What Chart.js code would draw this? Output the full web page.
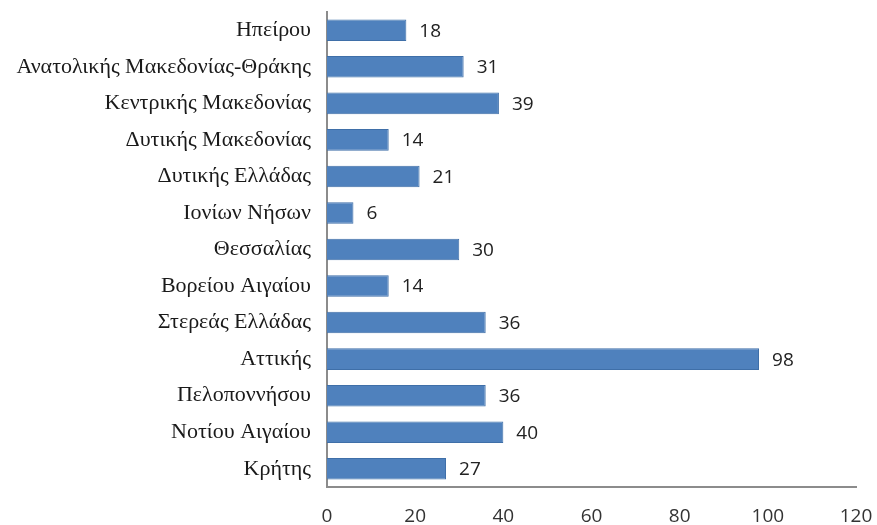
<!DOCTYPE html>
<html>
<head>
<meta charset="utf-8">
<script src="https://cdn.jsdelivr.net/npm/chart.js@4/dist/chart.umd.min.js"></script>
<style>
  html, body { margin: 0; padding: 0; background: #fff; }
  #wrap { width: 877px; height: 525px; position: relative; }
</style>
</head>
<body>
<div id="wrap"><canvas id="regions"></canvas></div>
<script>
var regions = [
  'Ηπείρου', 'Ανατολικής Μακεδονίας-Θράκης', 'Κεντρικής Μακεδονίας',
  'Δυτικής Μακεδονίας', 'Δυτικής Ελλάδας', 'Ιονίων Νήσων', 'Θεσσαλίας',
  'Βορείου Αιγαίου', 'Στερεάς Ελλάδας', 'Αττικής', 'Πελοποννήσου',
  'Νοτίου Αιγαίου', 'Κρήτης'
];
var counts = [18, 31, 39, 14, 21, 6, 30, 14, 36, 98, 36, 40, 27];
var xTicks = [0, 20, 40, 60, 80, 100, 120];

var chart_regions = new Chart(document.getElementById('regions'), {
    type: 'bar',
    data: {
        labels: regions,
        datasets: [{
            data: counts,
            backgroundColor: '#4f81bd',
            borderColor: '#3f6fa8',
            borderWidth: 1,
            categoryPercentage: 1,
            barPercentage: 0.59
        }]
    },
    options: {
        indexAxis: 'y',
        animation: false,
        responsive: true,
        maintainAspectRatio: false,
        layout: { padding: { top: 12, right: 21, bottom: 0, left: 0 } },
        plugins: {
            legend: { display: false },
            tooltip: { enabled: false }
        },
        scales: {
            x: {
                min: 0,
                max: 120,
                afterBuildTicks: function (scale) {
                    scale.ticks = xTicks.map(function (v) { return { value: v }; });
                },
                afterFit: function (scale) {
                    scale.height = 38;
                    scale.paddingLeft = 0;
                    scale.paddingRight = 0;
                },
                grid: { display: false, drawTicks: false },
                border: { display: true, color: '#8c8c8c', width: 2 },
                ticks: {
                    padding: 18,
                    color: '#333',
                    maxRotation: 0,
                    font: { family: 'Open Sans', size: 19 }
                }
            },
            y: {
                afterFit: function (scale) {
                    scale.width = 327;
                    scale.paddingTop = 0;
                    scale.paddingBottom = 0;
                },
                grid: { display: false, drawTicks: false },
                border: { display: true, color: '#8c8c8c', width: 2 },
                ticks: {
                    padding: 16,
                    color: '#1a1a1a',
                    font: { family: 'Liberation Serif', size: 22 }
                }
            }
        }
    },
    plugins: [{
        id: 'valueLabels',
        afterDatasetsDraw: function (chart) {
            var ctx = chart.ctx;
            var meta = chart.getDatasetMeta(0);
            ctx.save();
            ctx.font = '19px "Open Sans"';
            ctx.fillStyle = '#222';
            ctx.textAlign = 'left';
            ctx.textBaseline = 'middle';
            meta.data.forEach(function (bar, i) {
                ctx.fillText(String(counts[i]), bar.x + 13, bar.y + 1);
            });
            ctx.restore();
        }
    }, {
        id: 'whiteBg',
        beforeDraw: function (chart) {
            var ctx = chart.ctx;
            ctx.save();
            ctx.globalCompositeOperation = 'destination-over';
            ctx.fillStyle = 'white';
            ctx.fillRect(0, 0, chart.width, chart.height);
            ctx.restore();
        }
    }]
});
</script>
</body>
</html>
